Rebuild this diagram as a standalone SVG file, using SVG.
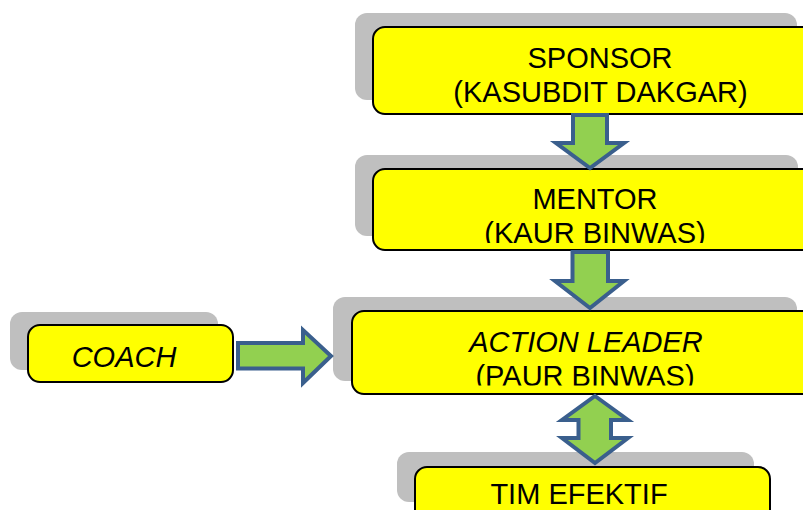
<svg xmlns="http://www.w3.org/2000/svg" width="803" height="510" viewBox="0 0 803 510">
<style>
.sh{fill:#BFBFBF}
.bx{fill:#FFFF00;stroke:#000;stroke-width:2}
.t{font-family:"Liberation Sans",Arial,sans-serif;font-size:29px;fill:#000;text-anchor:middle}
.i{font-style:italic}
.ar{fill:#92D050;stroke:#3A5F8D;stroke-width:4;stroke-linejoin:miter}
</style>
<defs>
<clipPath id="cm"><rect x="373" y="169" width="440" height="74"/></clipPath>
<clipPath id="ca"><rect x="352" y="311" width="460" height="74.5"/></clipPath>
</defs>
<rect width="803" height="510" fill="#fff"/>
<g id="sponsor">
<rect class="sh" x="355" y="13" width="442" height="87" rx="12"/>
<rect class="bx" x="373" y="27" width="442" height="87" rx="12"/>
<text class="t" x="600" y="68">SPONSOR</text>
<text class="t" x="600.5" y="102">(KASUBDIT DAKGAR)</text>
</g>
<g id="mentor">
<rect class="sh" x="355" y="155" width="443" height="81" rx="12"/>
<rect class="bx" x="373" y="169" width="443" height="81" rx="12"/>
<g clip-path="url(#cm)">
<text class="t" x="595" y="209">MENTOR</text>
<text class="t" x="595" y="243">(KAUR BINWAS)</text>
</g>
</g>
<g id="action-leader">
<rect class="sh" x="333" y="297" width="464" height="84" rx="12"/>
<rect class="bx" x="352" y="311" width="464" height="83" rx="12"/>
<g clip-path="url(#ca)">
<text class="t i" x="586" y="352">ACTION LEADER</text>
<text class="t" x="585" y="386">(PAUR BINWAS)</text>
</g>
</g>
<g id="tim-efektif">
<rect class="sh" x="397" y="452" width="357" height="50" rx="12"/>
<rect class="bx" x="415" y="467" width="355" height="70" rx="12"/>
<text class="t" x="579" y="504">TIM EFEKTIF</text>
</g>
<g id="coach">
<rect class="sh" x="10" y="312" width="208" height="58" rx="12"/>
<rect class="bx" x="28" y="325" width="205" height="57" rx="12"/>
<text class="t i" x="124" y="367">COACH</text>
</g>
<g id="connectors">
<path class="ar" d="M573,115 L607,115 L607,143 L624,143 L590,168 L556,143 L573,143 Z"/>
<path class="ar" d="M572.5,252 L608,252 L608,281 L624,281 L590,308 L555,281 L572.5,281 Z"/>
<path class="ar" d="M595,396 L628,420 L611,420 L611,438 L628,438 L595,463 L562,438 L578.5,438 L578.5,420 L562,420 Z"/>
<path class="ar" d="M238,343 L303,343 L303,330 L331,356 L303,383 L303,368.5 L238,368.5 Z"/>
</g>
</svg>
